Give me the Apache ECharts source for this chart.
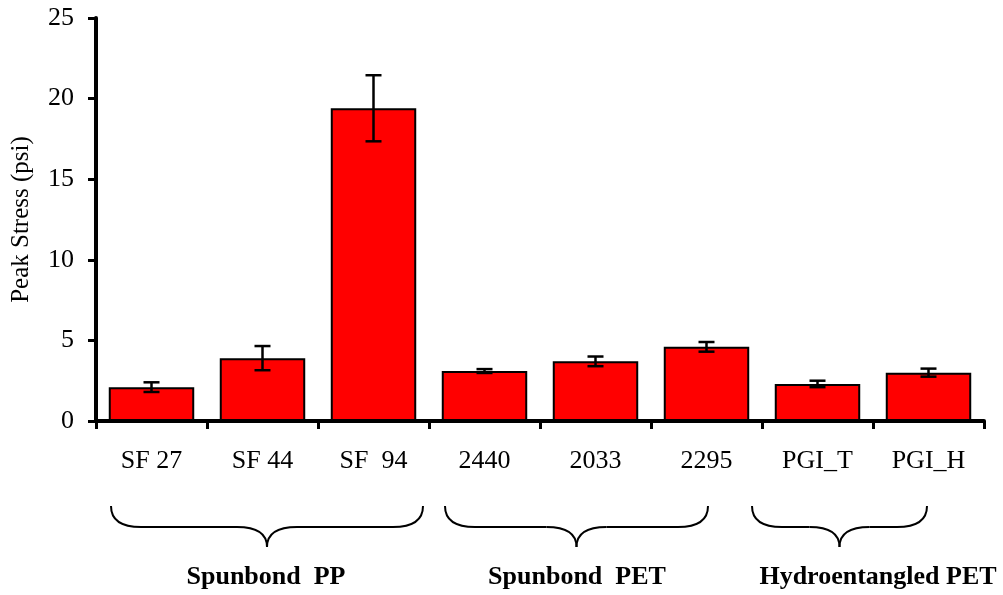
<!DOCTYPE html>
<html>
<head>
<meta charset="utf-8">
<script src="https://cdn.jsdelivr.net/npm/echarts@6/dist/echarts.min.js"></script>
<style>
html,body{margin:0;padding:0;background:#fff;}
#chart{width:1003px;height:595px;}
</style>
</head>
<body>
<div id="chart"></div>
<script>
const categories = ['SF 27', 'SF 44', 'SF  94', '2440', '2033', '2295', 'PGI_T', 'PGI_H'];
const peakStress = [2.1, 3.9, 19.4, 3.1, 3.7, 4.6, 2.3, 3.0];
const errorSD = [0.3, 0.75, 2.05, 0.12, 0.3, 0.3, 0.2, 0.25];
const yTicks = [0, 5, 10, 15, 20, 25];
const groupLabels = ['Spunbond  PP', 'Spunbond  PET', 'Hydroentangled PET'];

const chart = echarts.init(document.getElementById('chart'));
const serif = '"Liberation Serif", "Times New Roman", serif';

function brace(x1, x2, yTop) {
  const xm = (x1 + x2) / 2;
  const d = 21, tip = 20, r = 30;
  const yb = yTop + d;
  const st = { stroke: '#000', lineWidth: 2, fill: null };
  const seg = function (ax, ay, bx, by, cx, cy) {
    return { type: 'bezierCurve', shape: { x1: ax, y1: ay, x2: bx, y2: by, cpx1: cx, cpy1: cy }, style: st };
  };
  const ln = function (ax, ay, bx, by) {
    return { type: 'line', shape: { x1: ax, y1: ay, x2: bx, y2: by }, style: st };
  };
  return {
    type: 'group', children: [
      seg(x1, yTop, x1 + r, yb, x1, yb),
      ln(x1 + r, yb, xm - r, yb),
      seg(xm - r, yb, xm, yb + tip, xm, yb),
      seg(xm, yb + tip, xm + r, yb, xm, yb),
      ln(xm + r, yb, x2 - r, yb),
      seg(x2 - r, yb, x2, yTop, x2, yb)
    ]
  };
}

const braces = [[111, 423], [445, 708], [752, 927]];
const labelCenters = [266, 577, 878];
const graphics = [];
braces.forEach(function (b) { graphics.push(brace(b[0], b[1], 506)); });
groupLabels.forEach(function (t, i) {
  graphics.push({
    type: 'text', x: labelCenters[i], y: 577,
    style: { text: t, font: 'bold 26px ' + serif, fill: '#000', align: 'center', verticalAlign: 'middle' }
  });
});

chart.setOption({
  backgroundColor: '#fff',
  animation: false,
  grid: { left: 96, top: 18, width: 888, height: 403 },
  xAxis: {
    type: 'category', data: categories,
    axisLine: { lineStyle: { color: '#000', width: 4 } },
    axisTick: { show: true, length: 8, lineStyle: { color: '#000', width: 3 } },
    axisLabel: { color: '#000', fontFamily: serif, fontSize: 26, margin: 27 }
  },
  yAxis: {
    type: 'value', min: 0, max: 25, interval: 5,
    name: 'Peak Stress (psi)', nameLocation: 'middle', nameGap: 62,
    nameTextStyle: { color: '#000', fontFamily: serif, fontSize: 25 },
    splitLine: { show: false },
    axisLine: { show: true, lineStyle: { color: '#000', width: 4 } },
    axisTick: { show: true, length: 8, lineStyle: { color: '#000', width: 3 } },
    axisLabel: { color: '#000', fontFamily: serif, fontSize: 26, margin: 22,
      formatter: function (v) { return yTicks.indexOf(v) >= 0 ? String(v) : ''; } }
  },
  series: [
    {
      type: 'bar', data: peakStress, barWidth: '77%',
      itemStyle: { color: '#ff0000', borderColor: '#000', borderWidth: 2 }
    },
    {
      type: 'custom', z: 10,
      data: peakStress.map(function (v, i) { return [i, v - errorSD[i], v + errorSD[i]]; }),
      renderItem: function (params, api) {
        const lo = api.coord([api.value(0), api.value(1)]);
        const hi = api.coord([api.value(0), api.value(2)]);
        const hw = 8;
        const st = { stroke: '#000', lineWidth: 2.5 };
        return {
          type: 'group', children: [
            { type: 'line', shape: { x1: hi[0], y1: hi[1], x2: lo[0], y2: lo[1] }, style: st },
            { type: 'line', shape: { x1: hi[0] - hw, y1: hi[1], x2: hi[0] + hw, y2: hi[1] }, style: st },
            { type: 'line', shape: { x1: lo[0] - hw, y1: lo[1], x2: lo[0] + hw, y2: lo[1] }, style: st }
          ]
        };
      }
    }
  ],
  graphic: graphics
});
</script>
</body>
</html>
